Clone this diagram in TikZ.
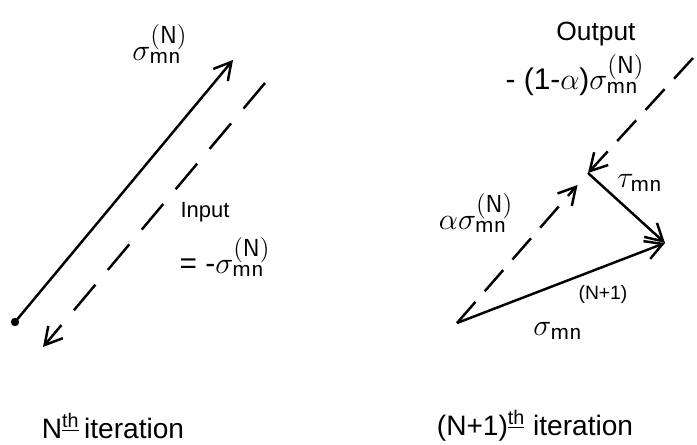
\documentclass[tikz,border=0pt]{standalone}
\usepackage{fontspec}
\setmainfont{Liberation Sans}
\usetikzlibrary{arrows.meta,calc}
\DeclareMathSizes{17}{17}{14}{11}
\newcommand{\sgm}[1]{\sigma_{\mathsf{mn}}^{\mathsf{#1}}}

\tikzset{
  vec/.style={line width=1.4pt, -{Straight Barb[length=3.4mm,width=3.8mm]}},
  dashvec/.style={vec, dash pattern=on 19pt off 11pt},
  lbl/.style={inner sep=0pt, font=\fontsize{17}{19}\selectfont},
  txt/.style={inner sep=0pt, font=\fontsize{14}{16}\selectfont},
  itlbl/.style={inner sep=0pt, font=\fontsize{16}{18}\selectfont},
}

\begin{document}
\begin{tikzpicture}[x=0.02cm, y=-0.02cm]
  \useasboundingbox (0,0) rectangle (697,444);

  % Left: N-th iteration
  \coordinate (p0) at (15,322);
  \coordinate (p1) at (233,60);
  \coordinate (q0) at (265,83);
  \coordinate (q1) at (43,347);
  \draw[vec] (p0) -- (p1);
  \fill (p0) circle (2.4pt);
  \draw[dashvec] (q0) -- (q1);
  \node[lbl] (sN) at (160,44) {$\sgm{(N)}$};
  \node[txt, font=\fontsize{12.5}{14}\selectfont] (inp) at (205,212) {Input};
  \node[lbl] (inpv) at (225,257) {= -$\sgm{(N)}$};
  \node[itlbl] (itN) at (113,426) {N\textsuperscript{\underline{th}}\,iteration};

  % Right: (N+1)-th iteration
  \coordinate (o) at (457,323);
  \coordinate (b) at (588,173);
  \coordinate (c) at (665,243);
  \coordinate (t) at (693,58);
  \draw[dashvec, dash pattern=on 16pt off 8pt] (t) -- (b);
  \draw[dashvec, dash pattern=on 16pt off 8pt] (o) -- ($(o)!0.92!(b)$);
  \draw[vec] (b) -- (c);
  \draw[vec] (o) -- (c);
  \node[txt, font=\fontsize{15}{17}\selectfont] (out) at (596,34) {Output};
  \node[lbl] (outv) at (575,75) {- (1-$\alpha$)$\sgm{(N)}$};
  \node[lbl] (tau) at (640,183) {$\tau_{\mathsf{mn}}$};
  \node[lbl] (asN) at (476,213) {$\alpha\sgm{(N)}$};
  \node[txt, font=\fontsize{11}{13}\selectfont] (Np1) at (603,294) {(N+1)};
  \node[lbl] (sNp1) at (558,331) {$\sigma_{\mathsf{mn}}$};
  \node[itlbl] (itNp1) at (535,426) {(N+1)\textsuperscript{\underline{th}} iteration};
\end{tikzpicture}
\end{document}
